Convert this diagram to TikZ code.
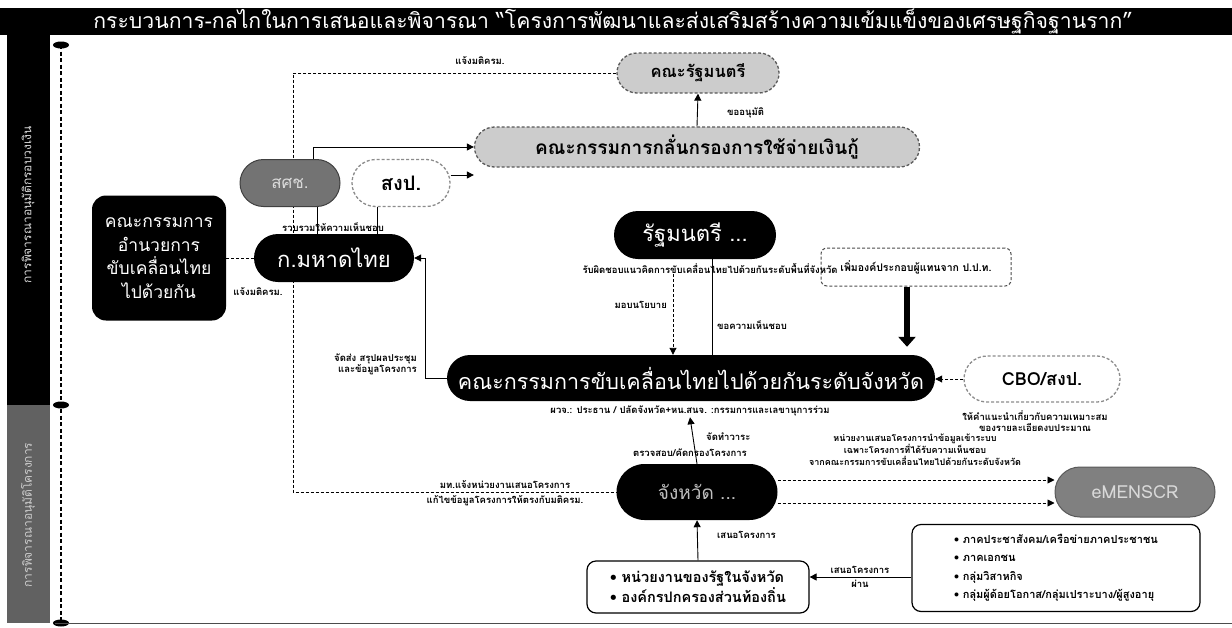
\documentclass[tikz,border=0pt]{standalone}
\usepackage{fontspec}
\setmainfont{Loma}[Script=Thai]
\usetikzlibrary{shapes.misc,arrows.meta,backgrounds}
\begin{document}
\begin{tikzpicture}[x=1pt,y=-1pt,
  pill/.style={rounded rectangle, inner sep=0pt, align=center},
  darkpill/.style={pill, fill=black, text=white},
  greypill/.style={pill, fill=black!20, draw=black!65, densely dashed, line width=1.3pt, font=\bfseries},
  whitepill/.style={pill, fill=white, draw=black!45, densely dashed, line width=1.3pt, font=\bfseries},
  lab/.style={font=\fontsize{9.5}{11}\selectfont\bfseries, inner sep=1pt, align=center},
  conn/.style={line width=0.9pt},
  arr/.style={conn, -{Triangle[length=7pt,width=7pt]}},
  dconn/.style={conn, dash pattern=on 3pt off 2pt},
  darr/.style={dconn, -{Triangle[length=7pt,width=7pt]}},
  boxw/.style={draw=black, line width=1.2pt, rounded corners=9pt, fill=white, align=left, inner sep=4pt}
]
\useasboundingbox (0,0) rectangle (1232,627);
% title bar
\fill[black] (0,8) rectangle (1232,35);
\node[text=white, font=\fontsize{21.2}{22}\selectfont, inner sep=0pt] (title) at (613,21.5)
  {กระบวนการ-กลไกในการเสนอและพิจารณา “โครงการพัฒนาและส่งเสริมสร้างความเข้มแข็งของเศรษฐกิจฐานราก”};
% sidebar
\fill[black] (7,35) rectangle (50,405);
\fill[black!62] (7,405) rectangle (50,623);
\node[rotate=90, text=white!85!black, font=\fontsize{12}{13}\selectfont, inner sep=0pt] (side1) at (28,205) {การพิจารณาอนุมัติกรอบวงเงิน};
\node[rotate=90, text=white!80!black, font=\fontsize{12}{13}\selectfont, inner sep=0pt] (side2) at (28,515) {การพิจารณาอนุมัติโครงการ};
\draw[line width=1.6pt, dash pattern=on 4pt off 2.5pt] (61,45) -- (61,623);
\fill (61,45) ellipse (8 and 3.5);
\fill (61,405) ellipse (8 and 3.5);
\fill (61,623) ellipse (8 and 3.5);
\draw[black!70, line width=1.2pt] (55,623.5) -- (1232,623.5);

% nodes
\node[greypill, minimum width=162, minimum height=40, font=\fontsize{16.5}{17}\selectfont\bfseries] (cab) at (698,73) {คณะรัฐมนตรี};
\node[greypill, minimum width=445, minimum height=40, font=\fontsize{19}{20}\selectfont\bfseries] (scr) at (697,147) {คณะกรรมการกลั่นกรองการใช้จ่ายเงินกู้};
\node[pill, fill=black!55, draw=black!75, line width=1pt, text=white!85!black, minimum width=100, minimum height=47, font=\fontsize{17}{18}\selectfont] (nesdc) at (290,183) {สศช.};
\node[whitepill, minimum width=98, minimum height=47, font=\fontsize{20}{21}\selectfont\bfseries] (bb) at (401,183) {สงป.};
\node[fill=black, text=white, rounded corners=14pt, minimum width=134, minimum height=125, align=center, inner sep=2pt, font=\fontsize{17.5}{23.5}\selectfont] (dir) at (159,258) {คณะกรรมการ\\อำนวยการ\\ขับเคลื่อนไทย\\ไปด้วยกัน};
\node[darkpill, minimum width=160, minimum height=48, font=\fontsize{22}{23}\selectfont] (moi) at (334,258) {ก.มหาดไทย};
\node[darkpill, minimum width=162, minimum height=48, font=\fontsize{22}{23}\selectfont] (min) at (695,235) {รัฐมนตรี ...};
\node[darkpill, minimum width=488, minimum height=46, font=\fontsize{21.5}{22}\selectfont] (pc) at (691,378) {คณะกรรมการขับเคลื่อนไทยไปด้วยกันระดับจังหวัด};
\node[draw=black!70, densely dashed, line width=1pt, rounded corners=6pt, minimum width=190, minimum height=38, font=\fontsize{10.5}{11}\selectfont\bfseries] (pacc) at (916,267) {เพิ่มองค์ประกอบผู้แทนจาก ป.ป.ท.};
\node[whitepill, minimum width=156, minimum height=46, font=\fontsize{18}{19}\selectfont\bfseries] (cbo) at (1042,379) {CBO/สงป.};
\node[darkpill, minimum width=161, minimum height=56, text=white!75!black, font=\fontsize{19}{20}\selectfont] (prov) at (697,492) {จังหวัด ...};
\node[pill, fill=black!50, draw=black!65, line width=1pt, text=black!15, minimum width=160, minimum height=50, font=\fontsize{18}{19}\selectfont] (emen) at (1135,492) {eMENSCR};
\node[boxw, minimum width=222, minimum height=52, font=\fontsize{14.5}{18}\selectfont\bfseries] (agency) at (698,587) {• หน่วยงานของรัฐในจังหวัด\\• องค์กรปกครองส่วนท้องถิ่น};
\node[boxw, minimum width=288, minimum height=87, font=\fontsize{11}{18.5}\selectfont\bfseries, inner xsep=12pt] (civil) at (1056,568) {• ภาคประชาสังคม/เครือข่ายภาคประชาชน\\• ภาคเอกชน\\• กลุ่มวิสาหกิจ\\• กลุ่มผู้ด้อยโอกาส/กลุ่มเปราะบาง/ผู้สูงอายุ};

% labels
\node[lab] (l1) at (480,61) {แจ้งมติครม.};
\node[lab, anchor=west] (l2) at (726,113) {ขออนุมัติ};
\node[lab] (l3) at (333,227) {รวบรวมให้ความเห็นชอบ};
\node[lab] (l4) at (258,292) {แจ้งมติครม.};
\node[lab] (minlab) at (710,268) {รับผิดชอบแนวคิดการขับเคลื่อนไทยไปด้วยกันระดับพื้นที่จังหวัด};
\node[lab, anchor=east] (l5) at (668,305) {มอบนโยบาย};
\node[lab, anchor=west] (l6) at (716,325) {ขอความเห็นชอบ};
\node[lab, anchor=east, align=right] (l7) at (418,364) {จัดส่ง สรุปผลประชุม\\และข้อมูลโครงการ};
\node[lab] (pwj) at (690,411) {ผวจ.: ประธาน / ปลัดจังหวัด+หน.สนจ. :กรรมการและเลขานุการร่วม};
\node[lab] (cbolab) at (1035,421) {ให้คำแนะนำเกี่ยวกับความเหมาะสม\\ของรายละเอียดงบประมาณ};
\node[lab, anchor=west] (l8) at (705,437) {จัดทำวาระ};
\node[lab] (l9) at (690,453) {ตรวจสอบ/คัดกรองโครงการ};
\node[lab, font=\fontsize{9}{12}\selectfont\bfseries] (l10) at (915,450) {หน่วยงานเสนอโครงการนำข้อมูลเข้าระบบ\\เฉพาะโครงการที่ได้รับความเห็นชอบ\\จากคณะกรรมการขับเคลื่อนไทยไปด้วยกันระดับจังหวัด};
\node[lab, anchor=south] (l11) at (505,490) {มท.แจ้งหน่วยงานเสนอโครงการ};
\node[lab, anchor=north] (l12) at (505,494) {แก้ไขข้อมูลโครงการให้ตรงกับมติครม.};
\node[lab, anchor=west] (l13) at (716,535) {เสนอโครงการ};
\node[lab, anchor=south] (l14) at (860,575) {เสนอโครงการ};
\node[lab, anchor=north] (l15) at (860,579) {ผ่าน};

\coordinate (c1) at (293,73);
\coordinate (e1) at (425,258);

\begin{pgfonlayer}{background}
\draw[dconn] (cab.west) -- (c1) |- (prov.west);
\draw[dconn] (dir.east) -- (moi.west);
\draw[conn] (nesdc.south -| 317,0) -- (moi.north -| 317,0);
\draw[conn] (bb.south -| 377,0) -- (moi.north -| 377,0);
\draw[arr] (nesdc.north -| 313,0) |- (scr.west);
\draw[arr] ([yshift=8pt]bb.east) -- ([yshift=8pt]bb.east -| scr.west);
\draw[arr] (scr.north) -- (cab.south);
\draw[darr] (minlab.south -| 673,0) -- (pc.north -| 673,0);
\draw[conn] (pc.north -| 712,0) -- (min.south -| 712,0);
\draw[arr] (pc.west) -| (e1) -- (moi.east);
\draw[darr] (cbo.west) -- (cbo.west -| pc.east);
\draw[-{Triangle[length=10pt,width=17pt]}, line width=6.5pt] (pacc.south -| 907,0) -- ([yshift=8pt]pc.north -| 907,0);
\draw[arr] (prov.north) -- (pwj.south);
\draw[darr] ([yshift=12pt]prov.east) -- ([yshift=12pt]emen.west);
\draw[darr] ([yshift=-11pt]prov.east) -- ([yshift=-11pt]emen.west);
\draw[arr] (agency.north) -- (prov.south);
\draw[arr] (civil.west |- 0,577) -- (agency.east |- 0,577);
\end{pgfonlayer}
\end{tikzpicture}
\end{document}
